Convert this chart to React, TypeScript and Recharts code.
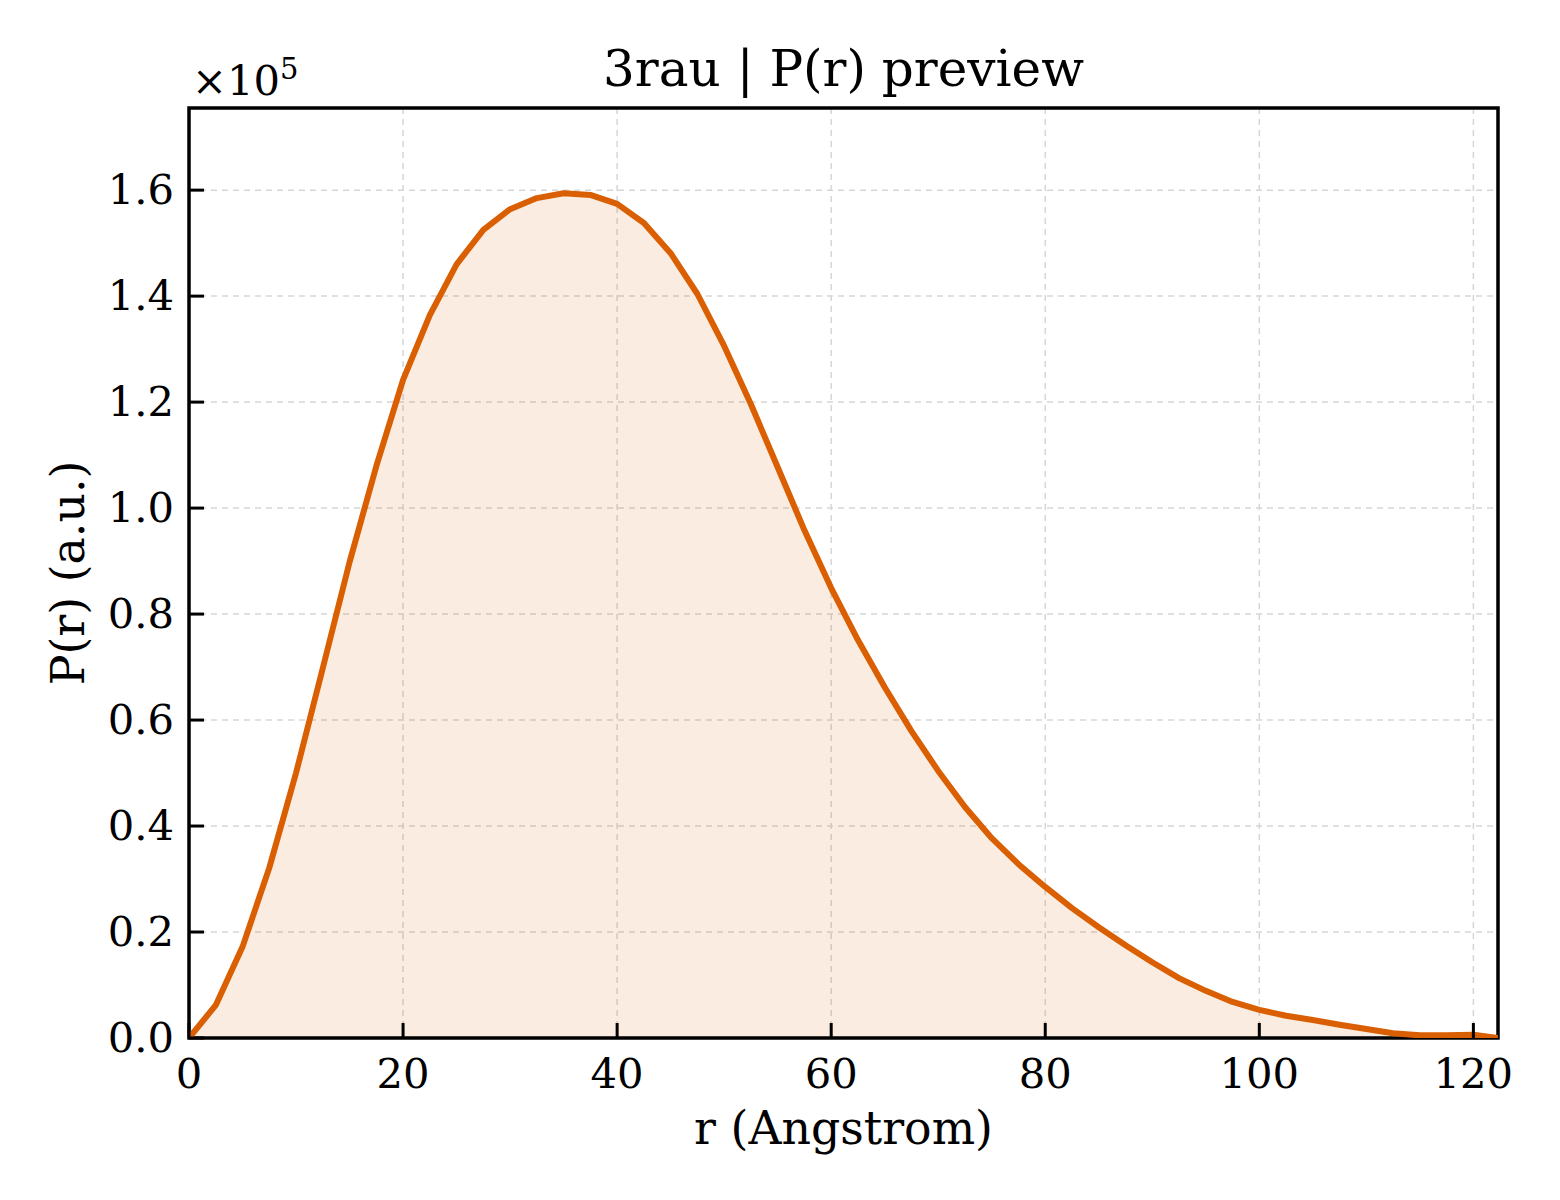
import React from 'react';
import { ComposedChart, Area, Line, XAxis, YAxis, CartesianGrid, ReferenceArea } from 'recharts';

const rValues = [
  0, 2.5, 5, 7.5, 10, 12.5, 15, 17.5, 20, 22.5, 25, 27.5, 30, 32.5, 35, 37.5, 40, 42.5, 45, 47.5,
  50, 52.5, 55, 57.5, 60, 62.5, 65, 67.5, 70, 72.5, 75, 77.5, 80, 82.5, 85, 87.5, 90, 92.5, 95, 97.5,
  100, 102.5, 105, 107.5, 110, 112.5, 115, 117.5, 120, 122.3,
];

const pValues = [
  0, 6200, 17200, 32100, 50000, 69800, 89800, 107900, 124200, 136400, 146000, 152500, 156400, 158500,
  159400, 159100, 157400, 153800, 148100, 140400, 130600, 119600, 107700, 95800, 84900, 75100, 66200,
  57900, 50400, 43600, 37700, 32800, 28500, 24500, 20900, 17500, 14300, 11300, 8900, 6800, 5300, 4200,
  3400, 2500, 1700, 900, 500, 500, 600, 0,
];

const xTicks = [0, 20, 40, 60, 80, 100, 120];
const yTicks = [0, 20000, 40000, 60000, 80000, 100000, 120000, 140000, 160000];

const data = rValues.map((r, i) => ({ r, p: pValues[i] }));

const FONT = '"DejaVu Serif", serif';
const X_MAX = 122.3;
const Y_MAX = 175500;

const YTick = (props: any) => {
  const { y, payload } = props;
  const x = 189;
  return (
    <g>
      <line x1={x} x2={x + 15} y1={y} y2={y} stroke="#000" strokeWidth={3} />
      <text x={x - 15} y={y + 14} textAnchor="end" fontSize={41.7} fontFamily={FONT} fill="#000">
        {(payload.value / 1e5).toFixed(1)}
      </text>
    </g>
  );
};

const XTick = (props: any) => {
  const { x, payload } = props;
  const y = 1038;
  return (
    <g>
      <line x1={x} x2={x} y1={y} y2={y - 15} stroke="#000" strokeWidth={3} />
      <text x={x} y={y + 50} textAnchor="middle" fontSize={41.7} fontFamily={FONT} fill="#000">
        {payload.value}
      </text>
    </g>
  );
};

const XLabel = () => (
  <g>
    <text x={843.5} y={1144} textAnchor="middle" fontSize={45.8} fontFamily={FONT} fill="#000">
      r (Angstrom)
    </text>
    <text x={843.5} y={86} textAnchor="middle" fontSize={50} fontFamily={FONT} fill="#000">
      3rau | P(r) preview
    </text>
  </g>
);

const YLabel = () => (
  <g>
    <text
      x={84}
      y={573}
      transform="rotate(-90, 84, 573)"
      textAnchor="middle"
      fontSize={45.8}
      fontFamily={FONT}
      fill="#000"
    >
      P(r) (a.u.)
    </text>
    <text x={192} y={95} fontSize={41.7} fontFamily={FONT} fill="#000">
      ×10
      <tspan fontSize={29} dy={-16}>5</tspan>
    </text>
  </g>
);

export default function App() {
  return (
    <div style={{ position: 'absolute', left: 0, top: 0, width: 1560, height: 1200, background: '#fff' }}>
      <ComposedChart
        width={1560}
        height={1200}
        data={data}
        margin={{ top: 108, right: 62, bottom: 102, left: 109 }}
      >
        <CartesianGrid
          stroke="#d6d6d6"
          strokeDasharray="6 5"
          strokeWidth={1.5}
          horizontalValues={yTicks}
          verticalValues={xTicks}
        />
        <XAxis
          dataKey="r"
          type="number"
          domain={[0, X_MAX]}
          ticks={xTicks}
          allowDataOverflow
          height={60}
          axisLine={false}
          tickLine={false}
          tick={(p: any) => <XTick {...p} />}
          interval={0}
          label={{ content: () => <XLabel /> }}
        />
        <YAxis
          type="number"
          domain={[0, Y_MAX]}
          ticks={yTicks}
          allowDataOverflow
          width={80}
          axisLine={false}
          tickLine={false}
          tick={(p: any) => <YTick {...p} />}
          interval={0}
          label={{ content: () => <YLabel /> }}
        />
        <Area
          type="linear"
          dataKey="p"
          stroke="none"
          fill="#D95F02"
          fillOpacity={0.12}
          dot={false}
          activeDot={false}
          isAnimationActive={false}
        />
        <Line
          type="linear"
          dataKey="p"
          stroke="#D95F02"
          strokeWidth={6}
          style={{ strokeWidth: 6 }}
          strokeLinejoin="round"
          dot={false}
          activeDot={false}
          isAnimationActive={false}
        />
        <ReferenceArea
          x1={0}
          x2={X_MAX}
          y1={0}
          y2={Y_MAX}
          fill="none"
          fillOpacity={0}
          stroke="#000"
          strokeWidth={3.5}
          ifOverflow="visible"
        />
      </ComposedChart>
    </div>
  );
}
